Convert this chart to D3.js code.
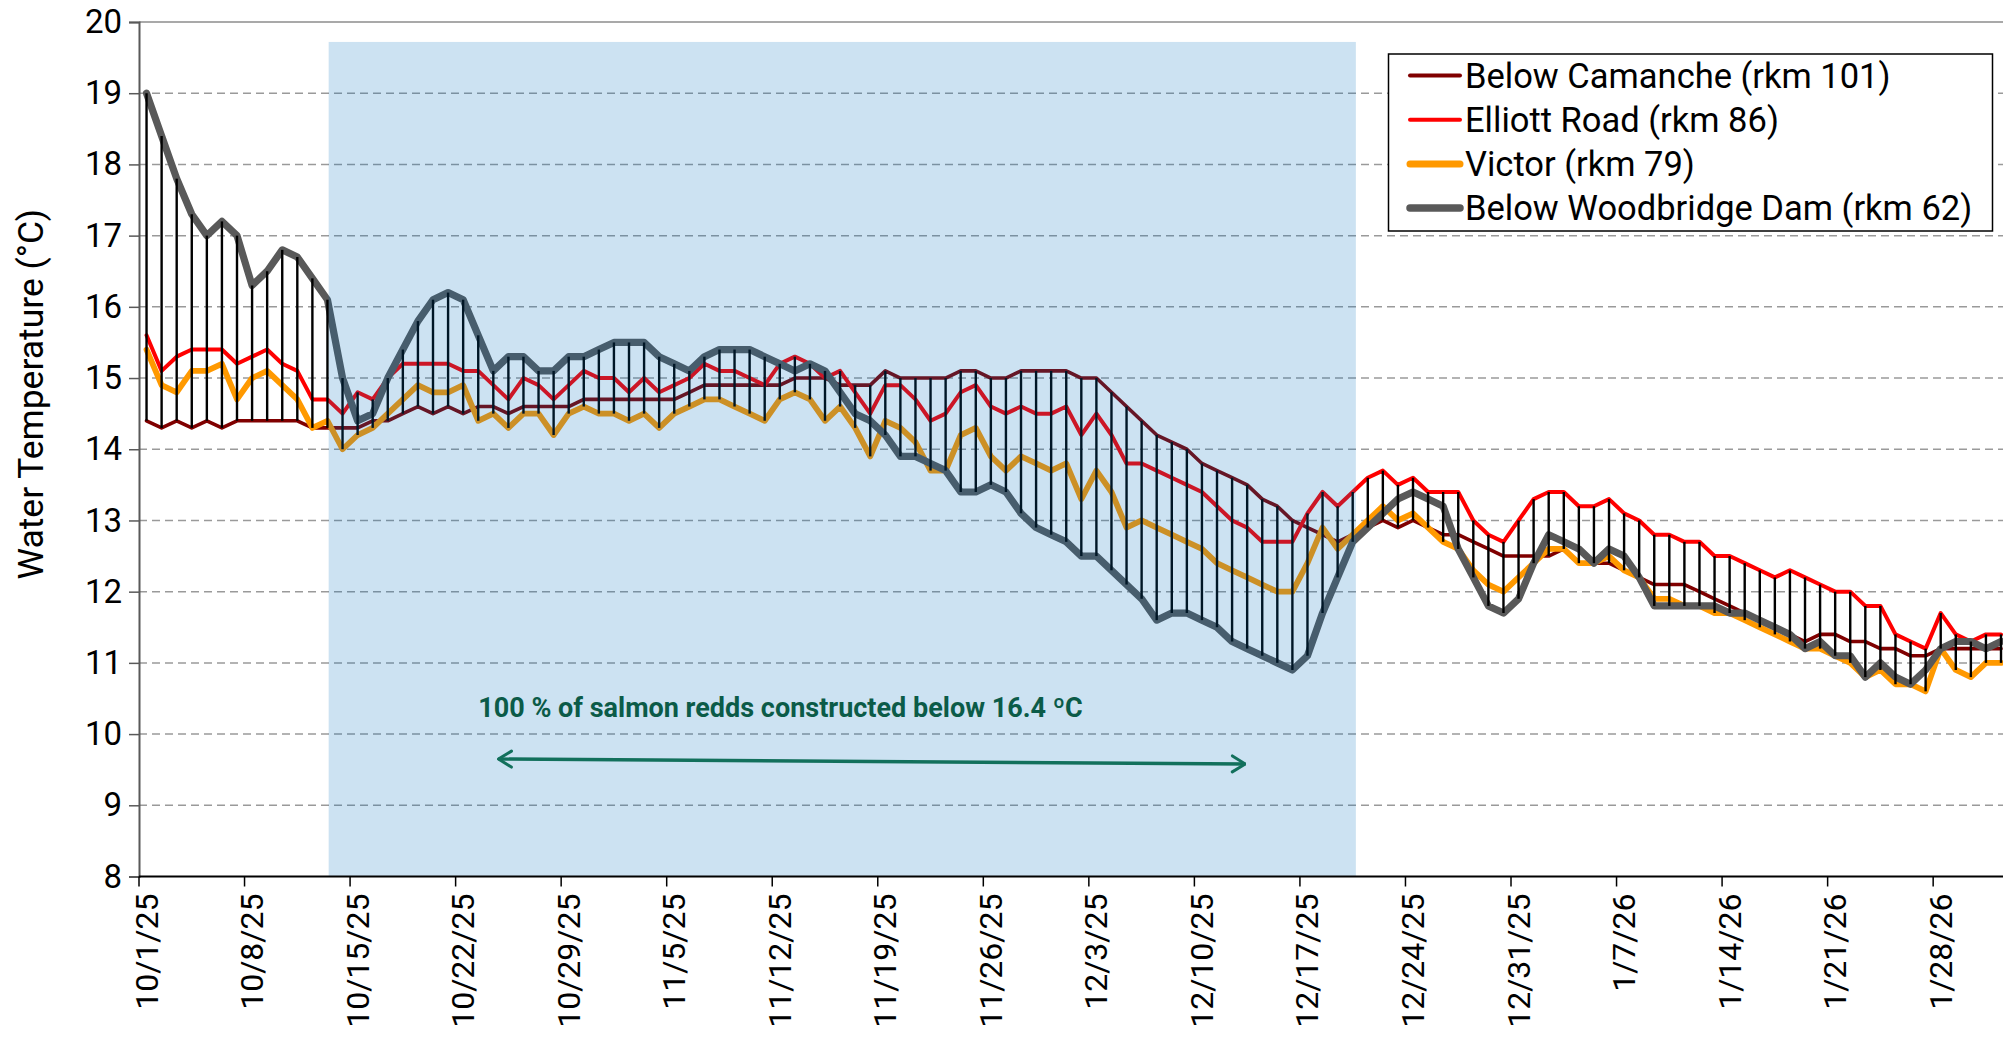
<!DOCTYPE html>
<html><head><meta charset="utf-8">
<script src="https://cdn.jsdelivr.net/npm/d3@7"></script>
<style>
body{margin:0;background:#fff;}
svg{display:block;font-family:Roboto,"Noto Sans",sans-serif;}
</style>
</head><body>
<svg id="c" width="2003" height="1048"></svg>
<script>
// ---------- DATA ----------
const startDate = "2025-10-01";
const tickLabels = ["10/1/25","10/8/25","10/15/25","10/22/25","10/29/25","11/5/25","11/12/25","11/19/25","11/26/25","12/3/25","12/10/25","12/17/25","12/24/25","12/31/25","1/7/26","1/14/26","1/21/26","1/28/26"];
const yTickValues = [8,9,10,11,12,13,14,15,16,17,18,19,20];
const seriesNames = ["Below Camanche (rkm 101)","Elliott Road (rkm 86)","Victor (rkm 79)","Below Woodbridge Dam (rkm 62)"];

const camanche = [14.4,14.3,14.4,14.3,14.4,14.3,14.4,14.4,14.4,14.4,
14.4,14.3,14.3,14.3,14.3,14.4,14.4,14.5,14.6,14.5,
14.6,14.5,14.6,14.6,14.5,14.6,14.6,14.6,14.6,14.7,
14.7,14.7,14.7,14.7,14.7,14.7,14.8,14.9,14.9,14.9,
14.9,14.9,14.9,15.0,15.0,15.0,14.9,14.9,14.9,15.1,
15.0,15.0,15.0,15.0,15.1,15.1,15.0,15.0,15.1,15.1,
15.1,15.1,15.0,15.0,14.8,14.6,14.4,14.2,14.1,14.0,
13.8,13.7,13.6,13.5,13.3,13.2,13.0,12.9,12.8,12.7,
12.8,12.9,13.0,12.9,13.0,12.9,12.8,12.8,12.7,12.6,
12.5,12.5,12.5,12.5,12.6,12.4,12.4,12.4,12.3,12.2,
12.1,12.1,12.1,12.0,11.9,11.8,11.7,11.6,11.5,11.4,
11.3,11.4,11.4,11.3,11.3,11.2,11.2,11.1,11.1,11.2,
11.2,11.2,11.2,11.2];

const elliott = [15.6,15.1,15.3,15.4,15.4,15.4,15.2,15.3,15.4,15.2,
15.1,14.7,14.7,14.5,14.8,14.7,15.0,15.2,15.2,15.2,
15.2,15.1,15.1,14.9,14.7,15.0,14.9,14.7,14.9,15.1,
15.0,15.0,14.8,15.0,14.8,14.9,15.0,15.2,15.1,15.1,
15.0,14.9,15.2,15.3,15.2,15.0,15.1,14.8,14.5,14.9,
14.9,14.7,14.4,14.5,14.8,14.9,14.6,14.5,14.6,14.5,
14.5,14.6,14.2,14.5,14.2,13.8,13.8,13.7,13.6,13.5,
13.4,13.2,13.0,12.9,12.7,12.7,12.7,13.1,13.4,13.2,
13.4,13.6,13.7,13.5,13.6,13.4,13.4,13.4,13.0,12.8,
12.7,13.0,13.3,13.4,13.4,13.2,13.2,13.3,13.1,13.0,
12.8,12.8,12.7,12.7,12.5,12.5,12.4,12.3,12.2,12.3,
12.2,12.1,12.0,12.0,11.8,11.8,11.4,11.3,11.2,11.7,
11.4,11.3,11.4,11.4];

const victor = [15.4,14.9,14.8,15.1,15.1,15.2,14.7,15.0,15.1,14.9,
14.7,14.3,14.4,14.0,14.2,14.3,14.5,14.7,14.9,14.8,
14.8,14.9,14.4,14.5,14.3,14.5,14.5,14.2,14.5,14.6,
14.5,14.5,14.4,14.5,14.3,14.5,14.6,14.7,14.7,14.6,
14.5,14.4,14.7,14.8,14.7,14.4,14.6,14.3,13.9,14.4,
14.3,14.1,13.7,13.7,14.2,14.3,13.9,13.7,13.9,13.8,
13.7,13.8,13.3,13.7,13.4,12.9,13.0,12.9,12.8,12.7,
12.6,12.4,12.3,12.2,12.1,12.0,12.0,12.4,12.9,12.6,
12.8,13.0,13.2,13.0,13.1,12.9,12.7,12.6,12.3,12.1,
12.0,12.2,12.4,12.6,12.6,12.4,12.4,12.5,12.3,12.2,
11.9,11.9,11.8,11.8,11.7,11.7,11.6,11.5,11.4,11.3,
11.2,11.2,11.1,11.0,10.8,10.9,10.7,10.7,10.6,11.2,
10.9,10.8,11.0,11.0];

const woodbridge = [19.0,18.4,17.8,17.3,17.0,17.2,17.0,16.3,16.5,16.8,
16.7,16.4,16.1,15.0,14.4,14.5,15.0,15.4,15.8,16.1,
16.2,16.1,15.6,15.1,15.3,15.3,15.1,15.1,15.3,15.3,
15.4,15.5,15.5,15.5,15.3,15.2,15.1,15.3,15.4,15.4,
15.4,15.3,15.2,15.1,15.2,15.1,14.8,14.5,14.4,14.2,
13.9,13.9,13.8,13.7,13.4,13.4,13.5,13.4,13.1,12.9,
12.8,12.7,12.5,12.5,12.3,12.1,11.9,11.6,11.7,11.7,
11.6,11.5,11.3,11.2,11.1,11.0,10.9,11.1,11.7,12.2,
12.7,12.9,13.1,13.3,13.4,13.3,13.2,12.6,12.2,11.8,
11.7,11.9,12.4,12.8,12.7,12.6,12.4,12.6,12.5,12.2,
11.8,11.8,11.8,11.8,11.8,11.7,11.7,11.6,11.5,11.4,
11.2,11.3,11.1,11.1,10.8,11.0,10.8,10.7,10.9,11.2,
11.3,11.3,11.2,11.3];

// spawning window (in day slots) and its top value
const shadedSlots = [12.58, 80.71];
const shadedTop = 19.72;
const noteText = "100 % of salmon redds constructed below 16.4 \u00BAC";
const notePos = [22.5, 10.24];          // slot, value
const arrowFrom = [23.84, 9.65];        // slot, value
const arrowTo = [73.38, 9.58];

// ---------- STYLES ----------
const colors = ["#800000","#FF0000","#FF9900","#595959"];
const widths = [3.6, 4, 5.8, 7.2];
const legendWidths = [4, 4, 7, 7.5];

// ---------- BUILD ----------
const svg = d3.select("#c");
const parse = d3.timeParse("%Y-%m-%d");
const fmt = d3.timeFormat("%-m/%-d/%y");
const d0 = parse(startDate);
const dates = d3.timeDay.range(d0, d3.timeDay.offset(d0, camanche.length));
const cats = dates.map(fmt);

const x0 = 139, slotW = 15.077;
const x = d3.scaleBand().domain(cats).range([x0, x0 + cats.length*slotW]).padding(0);
const xs = d3.scaleLinear().domain([0, cats.length]).range(x.range());
const y = d3.scaleLinear().domain([8,20]).range([876.5, 22]);
const cx = c => x(c) + x.bandwidth()/2;

const series = [camanche, elliott, victor, woodbridge];

// gridlines
svg.append("g").selectAll("line").data(yTickValues.filter(v => v > 8 && v < 20)).join("line")
  .attr("x1", x0).attr("x2", 2003).attr("y1", d => y(d)).attr("y2", d => y(d))
  .attr("stroke", "#9a9a9a").attr("stroke-width", 1.5).attr("stroke-dasharray", "8,5");
svg.append("line").attr("x1", x0).attr("x2", 2003).attr("y1", y(20)).attr("y2", y(20))
  .attr("stroke", "#8c8c8c").attr("stroke-width", 1.5);

// series lines
const line = d3.line().x((v,i) => cx(cats[i])).y(v => y(v));
series.forEach((s, k) => {
  svg.append("path").datum(s).attr("d", line).attr("fill", "none")
    .attr("stroke", colors[k]).attr("stroke-width", widths[k])
    .attr("stroke-linejoin", "round").attr("stroke-linecap", "round");
});

// high-low lines
const hl = cats.map((c, i) => {
  const vals = series.map(s => s[i]);
  return {c, hi: d3.max(vals), lo: d3.min(vals)};
});
svg.append("g").selectAll("line").data(hl).join("line")
  .attr("x1", d => cx(d.c)).attr("x2", d => cx(d.c))
  .attr("y1", d => y(d.hi)).attr("y2", d => y(d.lo))
  .attr("stroke", "#000").attr("stroke-width", 2.4);

// shaded window overlay
svg.append("rect")
  .attr("x", xs(shadedSlots[0])).attr("width", xs(shadedSlots[1]) - xs(shadedSlots[0]))
  .attr("y", y(shadedTop)).attr("height", y(8) - y(shadedTop))
  .attr("fill", "#0070C0").attr("fill-opacity", 0.2);

// y axis
const yAxis = svg.append("g").attr("transform", `translate(${x0},0)`)
  .call(d3.axisLeft(y).tickValues(yTickValues).tickSize(10).tickPadding(7).tickFormat(d3.format("d")));
yAxis.select(".domain").attr("stroke", "#595959").attr("stroke-width", 2);
yAxis.selectAll(".tick line").attr("stroke", "#595959").attr("stroke-width", 1.5);
yAxis.selectAll(".tick text").attr("font-size", 33).attr("fill", "#000").attr("font-family", "Roboto");

// x axis
svg.append("line").attr("x1", x0).attr("x2", 2003).attr("y1", y(8)).attr("y2", y(8))
  .attr("stroke", "#000").attr("stroke-width", 2);
const tickCats = cats.filter(c => tickLabels.includes(c));
svg.append("g").selectAll("line").data(tickCats).join("line")
  .attr("x1", c => x(c)).attr("x2", c => x(c)).attr("y1", y(8)).attr("y2", y(8) + 10)
  .attr("stroke", "#000").attr("stroke-width", 1.5);
svg.append("g").selectAll("text").data(tickCats).join("text")
  .attr("transform", c => `translate(${cx(c)},${y(8) + 17}) rotate(-90)`)
  .attr("text-anchor", "end").attr("dominant-baseline", "central")
  .attr("font-size", 32).attr("fill", "#000").text(c => c);

// y title
svg.append("text").attr("transform", `translate(31,${(y(8)+y(20))/2 - 55}) rotate(-90)`)
  .attr("text-anchor", "middle").attr("dominant-baseline", "central")
  .attr("font-size", 35.5).attr("fill", "#000").text("Water Temperature (\u00B0C)");

// annotation
svg.append("text").attr("x", xs(notePos[0])).attr("y", y(notePos[1]))
  .attr("font-size", 27).attr("font-weight", "bold").attr("fill", "#0B5B48").text(noteText);
const defs = svg.append("defs");
defs.append("marker").attr("id", "ah").attr("viewBox", "0 0 16 20").attr("refX", 15).attr("refY", 10)
  .attr("markerWidth", 16).attr("markerHeight", 20).attr("markerUnits", "userSpaceOnUse")
  .attr("orient", "auto-start-reverse")
  .append("path").attr("d", "M2,2 L15,10 L2,18").attr("fill", "none").attr("stroke", "#12705C")
  .attr("stroke-width", 3).attr("stroke-linecap", "round").attr("stroke-linejoin", "round");
svg.append("line").attr("x1", xs(arrowFrom[0])).attr("y1", y(arrowFrom[1]))
  .attr("x2", xs(arrowTo[0])).attr("y2", y(arrowTo[1]))
  .attr("stroke", "#12705C").attr("stroke-width", 3.4)
  .attr("marker-start", "url(#ah)").attr("marker-end", "url(#ah)");

// legend
const lg = svg.append("g");
lg.append("rect").attr("x", 1388.5).attr("y", 54).attr("width", 604).attr("height", 177)
  .attr("fill", "#fff").attr("stroke", "#000").attr("stroke-width", 1.5);
const rows = lg.selectAll("g.row").data(seriesNames).join("g").attr("class", "row")
  .attr("transform", (d, i) => `translate(0,${75.5 + i*44.2})`);
rows.append("line").attr("x1", 1410).attr("x2", 1460).attr("y1", 0).attr("y2", 0)
  .attr("stroke", (d, i) => colors[i]).attr("stroke-width", (d, i) => legendWidths[i]).attr("stroke-linecap", "round");
rows.append("text").attr("x", 1465).attr("y", 0).attr("dominant-baseline", "central")
  .attr("font-size", 34.5).attr("fill", "#000").text(d => d);
</script>
</body></html>
